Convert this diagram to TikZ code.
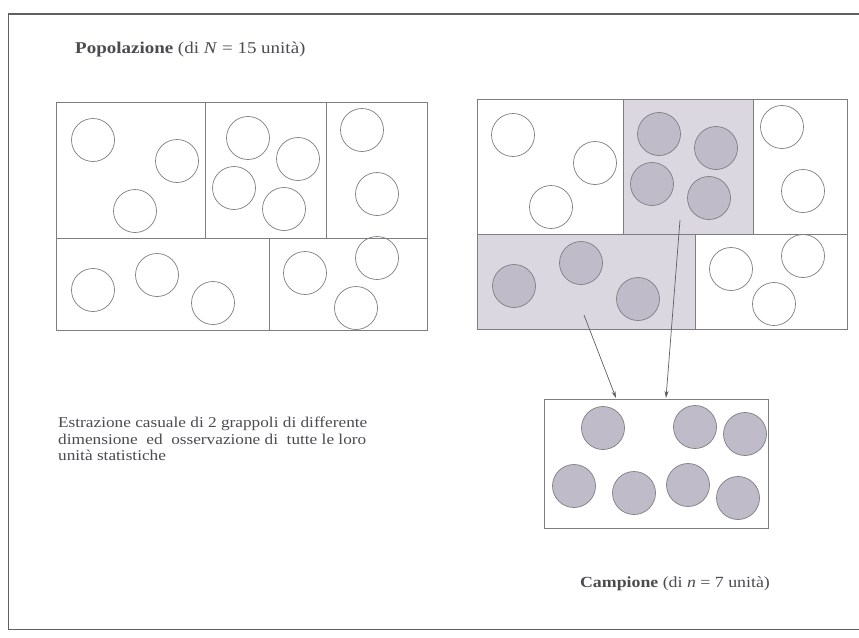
\documentclass[tikz,border=0pt]{standalone}
\usepackage{fontspec}
\setmainfont{Liberation Serif}
\newfontfamily\widefont[FakeStretch=1.15]{Liberation Serif}
\usetikzlibrary{arrows.meta}
\definecolor{ln}{RGB}{125,125,130}
\definecolor{framecol}{RGB}{95,95,100}
\definecolor{clusterfill}{RGB}{218,215,225}
\definecolor{dotfill}{RGB}{192,187,200}
\definecolor{txt}{RGB}{75,75,80}
\begin{document}
\begin{tikzpicture}[x=1pt,y=-1pt,
  cellline/.style={draw=ln, line width=0.8pt},
  unit/.style={circle, draw=ln, line width=0.7pt, minimum size=43pt, inner sep=0pt},
  chosen/.style={unit, fill=dotfill},
  label/.style={text=txt, inner sep=0pt},
  pick/.style={draw=framecol, line width=0.7pt, -{Stealth[length=7pt,width=4pt]}}]
\useasboundingbox (0,0) rectangle (859,637);
\fill[white] (0,0) rectangle (859,637);
% outer frame
\draw[framecol, line width=1.1pt] (8,14) -- (859,14);
\draw[framecol, line width=0.9pt] (8,14) -- (8,629) -- (859,629);

% title
\node[label, anchor=west, font=\widefont\fontsize{16.5}{19}\selectfont] (title) at (75,50)
  {\textbf{Popolazione} (di \textit{N} = 15 unità)};

% ---------- left grid (population) ----------
\draw[cellline] (56,102) rectangle (427,330);
\draw[cellline] (56,238) -- (427,238);
\draw[cellline] (205,102) -- (205,238);
\draw[cellline] (326,102) -- (326,238);
\draw[cellline] (269,238) -- (269,330);
\node[unit] (p1) at (93,140) {};
\node[unit] (p2) at (177,161) {};
\node[unit] (p3) at (135,211) {};
\node[unit] (p4) at (248,138) {};
\node[unit] (p5) at (298,159) {};
\node[unit] (p6) at (234,188) {};
\node[unit] (p7) at (284,209) {};
\node[unit] (p8) at (362,130) {};
\node[unit] (p9) at (377,194) {};
\node[unit] (p10) at (93,290) {};
\node[unit] (p11) at (157,275) {};
\node[unit] (p12) at (213,303) {};
\node[unit] (p13) at (305,273) {};
\node[unit] (p14) at (377,258) {};
\node[unit] (p15) at (356,308) {};

% ---------- right grid (selected clusters) ----------
\fill[clusterfill] (623,99) rectangle (753,234);
\fill[clusterfill] (477,234) rectangle (695,329);
\draw[cellline] (477,99) rectangle (847,329);
\draw[cellline] (477,234) -- (847,234);
\draw[cellline] (623,99) -- (623,234);
\draw[cellline] (753,99) -- (753,234);
\draw[cellline] (695,234) -- (695,329);
\node[unit] (q1) at (513,135) {};
\node[unit] (q2) at (595,163) {};
\node[unit] (q3) at (551,207) {};
\node[chosen] (q4) at (659,134) {};
\node[chosen] (q5) at (716,148) {};
\node[chosen] (q6) at (652,184) {};
\node[chosen] (q7) at (709,198) {};
\node[unit] (q8) at (782,127) {};
\node[unit] (q9) at (803,191) {};
\node[chosen] (q10) at (514,286) {};
\node[chosen] (q11) at (581,263) {};
\node[chosen] (q12) at (638,299) {};
\node[unit] (q13) at (731,269) {};
\node[unit] (q14) at (803,256) {};
\node[unit] (q15) at (774,304) {};

% ---------- sample ----------
\node[draw=ln, line width=0.8pt, minimum width=224pt, minimum height=129pt, inner sep=0pt, anchor=north west] (sample) at (544,399) {};
\node[chosen] (s1) at (603,428) {};
\node[chosen] (s2) at (695,427) {};
\node[chosen] (s3) at (745,434) {};
\node[chosen] (s4) at (574,486) {};
\node[chosen] (s5) at (634,493) {};
\node[chosen] (s6) at (688,485) {};
\node[chosen] (s7) at (738,498) {};

% arrows
\coordinate (fromA) at (584,315);
\coordinate (fromB) at (680,220);
\coordinate (toA) at (616,398);
\coordinate (toB) at (666,398);
\draw[pick] (fromA) -- (toA);
\draw[pick] (fromB) -- (toB);

% texts
\node[label, anchor=north west, align=left, font=\widefont\fontsize{15}{16.5}\selectfont] (desc) at (58,417)
  {Estrazione casuale di 2 grappoli di differente\\
   dimensione\ \ ed\ \ osservazione di\ \ tutte le loro\\
   unità statistiche};
\node[label, anchor=center, font=\widefont\fontsize{15.5}{18}\selectfont] (camp) at (675,584)
  {\textbf{Campione} (di \textit{n} = 7 unità)};
\end{tikzpicture}
\end{document}
